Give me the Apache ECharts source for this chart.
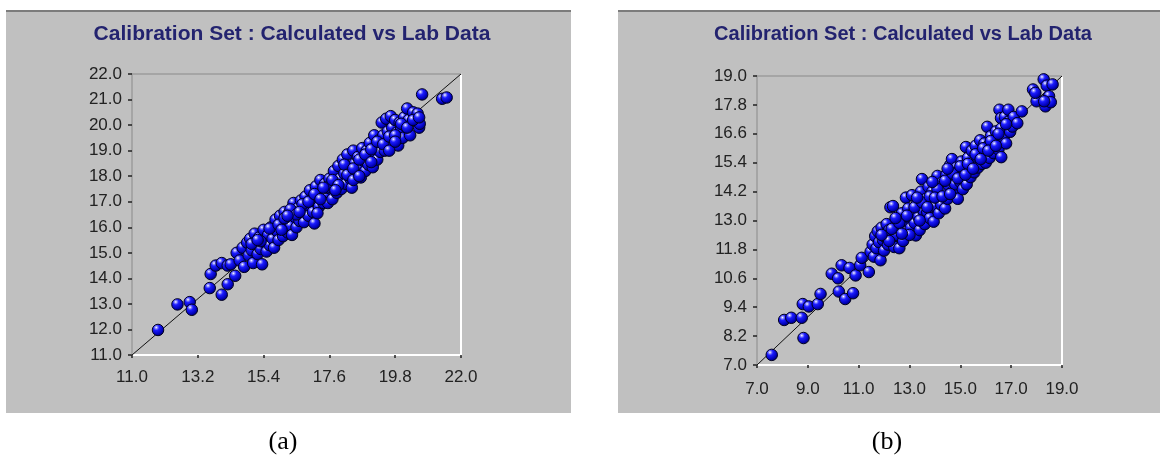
<!DOCTYPE html>
<html>
<head>
<meta charset="utf-8">
<script src="https://cdn.jsdelivr.net/npm/echarts@6/dist/echarts.min.js"></script>
<style>
html,body{margin:0;padding:0;background:#ffffff;}
#chart{width:1163px;height:466px;}
</style>
</head>
<body>
<div id="chart"></div>
<script>
// ---------- Data ----------
const titleText = 'Calibration Set : Calculated vs Lab Data';
const captionA = '(a)';
const captionB = '(b)';

const xTicksA = [11.0, 13.2, 15.4, 17.6, 19.8, 22.0];
const yTicksA = [11.0, 12.0, 13.0, 14.0, 15.0, 16.0, 17.0, 18.0, 19.0, 20.0, 21.0, 22.0];
const xTicksB = [7.0, 9.0, 11.0, 13.0, 15.0, 17.0, 19.0];
const yTicksB = [7.0, 8.2, 9.4, 10.6, 11.8, 13.0, 14.2, 15.4, 16.6, 17.8, 19.0];

const pointsA = [
  [11.87,11.98],[12.52,12.98],[12.93,13.07],[13.0,12.77],[13.6,13.62],[13.63,14.17],[13.8,14.5],
  [14.0,14.6],[14.0,13.36],[14.2,13.77],[14.2,14.5],[14.45,14.1],[14.3,14.55],
  [14.5,15.0],[14.6,14.7],[14.7,15.2],[14.75,14.45],[14.85,15.4],[14.9,14.9],[14.95,15.55],[15.0,15.1],
  [15.05,14.6],[15.1,15.75],[15.15,15.3],[15.2,14.95],[15.25,15.6],[15.3,15.15],[15.35,14.55],[15.4,15.9],
  [15.45,15.4],[15.5,15.05],[15.55,15.7],[15.6,15.3],
  [15.65,16.0],[15.7,15.55],[15.75,15.2],[15.8,16.3],[15.85,15.85],[15.9,15.5],[15.95,16.45],[16.0,16.05],
  [16.05,15.65],[16.1,16.6],[16.15,16.2],[16.2,15.8],[16.25,16.55],[16.3,16.05],[16.35,15.7],[16.4,16.95],
  [16.45,16.4],[16.5,16.0],[16.55,16.75],[16.6,16.25],
  [16.65,17.05],[16.7,16.6],[16.75,16.2],[16.8,17.2],[16.85,16.85],[16.9,16.45],[16.95,17.45],[17.0,17.0],
  [17.05,16.6],[17.1,16.15],[17.15,17.6],[17.2,17.2],[17.25,16.8],[17.3,17.85],[17.35,17.4],[17.4,16.95],
  [17.45,17.7],[17.5,17.25],[17.55,16.95],[17.6,17.9],
  [17.65,17.5],[17.7,17.1],[17.75,18.2],[17.8,17.7],[17.85,17.35],[17.9,18.4],[17.95,17.9],[18.0,17.5],
  [18.05,18.65],[18.1,18.1],[18.15,17.7],[18.2,18.85],[18.25,18.35],[18.3,17.9],[18.35,17.55],[18.4,19.0],
  [18.45,18.5],[18.5,18.1],[18.55,18.75],[18.6,18.3],
  [18.65,17.95],[18.7,19.1],[18.75,18.6],[18.8,18.2],[18.85,19.0],[18.9,18.45],[18.95,19.3],[19.0,18.8],
  [19.05,18.35],[19.1,19.6],[19.15,19.1],[19.2,18.65],[19.25,19.4],[19.3,18.95],[19.35,20.1],[19.4,19.6],
  [19.45,19.0],[19.5,20.25],[19.55,19.75],[19.6,19.2],
  [19.65,20.35],[19.7,19.9],[19.75,19.45],[19.8,20.2],[19.85,19.7],[19.9,19.2],[19.95,20.1],[20.0,19.85],
  [20.05,19.5],[20.1,20.3],[20.15,19.95],[20.2,20.65],[20.25,20.2],[20.3,19.6],[20.4,20.5],[20.55,20.45],
  [20.6,19.9],[20.62,20.05],[20.7,21.2],[21.37,21.03],[21.52,21.08],
  [15.0,15.35],[15.3,15.45],[15.6,15.95],[15.9,16.1],[16.1,16.35],[16.3,16.7],[16.5,16.5],[16.7,16.9],
  [16.9,17.0],[17.1,17.3],[17.3,17.1],[17.5,17.55],[17.7,17.85],[17.9,17.65],[18.1,18.45],[18.2,18.05],
  [18.4,18.3],[18.6,18.65],[18.8,18.85],[19.0,19.05],[19.2,19.35],[19.4,19.25],[19.6,19.55],[19.8,19.6],
  [20.0,20.05],[20.2,19.9],[20.4,20.2],[20.6,20.3],[16.0,15.9],[16.6,16.6],[17.2,16.55],[17.8,17.45],
  [18.4,17.85],[19.0,18.55],[19.6,19.0],[15.2,15.5],[16.2,16.45],[17.4,17.55],[18.6,18.0],[19.8,19.35]
];

const pointsB = [
  [7.58,7.42],[8.07,8.87],[8.35,8.96],[8.76,8.96],[8.83,8.12],[8.8,9.53],[9.04,9.43],[9.39,9.53],[9.5,9.95],
  [9.94,10.79],[10.19,10.6],[10.22,10.05],[10.33,11.14],[10.47,9.74],[10.78,9.98],[10.64,11.03],[10.88,10.72],
  [11.06,11.14],[11.12,11.45],[11.4,10.86],[11.47,11.7],
  [11.55,12.0],[11.6,11.5],[11.65,12.35],[11.7,11.85],[11.75,12.55],[11.8,12.1],[11.86,11.35],[11.9,12.7],
  [11.95,12.2],[12.0,11.75],[12.05,12.45],[12.1,12.85],[12.15,12.0],[12.2,12.6],[12.25,13.55],[12.3,12.25],
  [12.35,13.6],[12.4,11.9],[12.45,12.75],[12.5,12.4],
  [12.55,13.0],[12.6,11.85],[12.65,12.6],[12.7,13.3],[12.75,12.15],[12.8,12.9],[12.86,13.95],[12.9,12.55],
  [12.95,13.5],[13.0,13.1],[13.05,12.7],[13.1,14.05],[13.15,13.3],[13.2,12.9],[13.25,12.38],[13.3,13.7],
  [13.35,13.15],[13.4,12.6],[13.45,14.2],[13.49,14.72],
  [13.55,13.4],[13.6,12.85],[13.65,13.9],[13.7,13.35],[13.75,14.4],[13.8,13.1],[13.85,13.7],[13.9,14.2],
  [13.95,12.95],[14.0,13.6],[14.05,14.55],[14.1,14.85],[14.15,13.3],[14.2,14.0],[14.25,13.65],[14.3,14.6],
  [14.35,14.2],[14.4,13.5],[14.45,14.9],[14.5,13.9],
  [14.55,14.45],[14.6,15.3],[14.67,15.55],[14.7,14.2],[14.75,14.85],[14.8,14.5],[14.85,15.2],[14.9,13.9],
  [14.95,15.05],[15.0,14.6],[15.05,15.45],[15.1,14.3],[15.15,15.0],[15.22,16.05],[15.25,14.5],[15.3,15.6],
  [15.35,15.2],[15.4,14.8],[15.45,15.9],[15.5,15.4],
  [15.55,15.0],[15.6,16.1],[15.65,15.65],[15.7,15.2],[15.78,16.33],[15.8,15.8],[15.85,15.35],[15.92,15.63],
  [15.95,16.2],[16.0,15.4],[16.06,16.89],[16.1,16.1],[16.15,15.6],[16.2,16.5],[16.26,16.19],[16.3,15.8],
  [16.4,16.7],[16.45,16.35],[16.5,15.95],[16.54,17.6],
  [16.6,17.25],[16.61,15.63],[16.61,16.82],[16.7,16.45],[16.75,17.3],[16.8,16.2],[16.89,17.6],[16.9,17.1],
  [16.96,16.68],[17.05,16.9],[17.1,17.3],[17.24,17.04],[17.42,17.53],[17.86,18.44],[18.0,17.95],[17.95,18.3],
  [18.28,18.86],[18.35,17.74],[18.4,18.6],[18.49,18.16],[18.63,18.65],[18.56,17.91],[18.3,17.95],
  [12.0,12.35],[12.3,12.65],[12.6,12.9],[12.9,13.2],[13.2,13.55],[13.5,13.75],[13.8,14.0],[14.1,14.3],
  [14.4,14.65],[14.7,14.95],[15.0,15.25],[15.3,15.35],[15.6,15.75],[15.9,16.0],[16.2,16.3],[16.5,16.6],
  [16.8,17.0],[13.0,12.4],[13.4,13.0],[13.7,13.55],[14.0,13.95],[14.3,14.0],[14.6,14.1],[14.9,14.75],
  [15.2,14.9],[15.5,15.15],[15.8,15.55],[16.1,15.9],[16.4,16.1],[12.2,12.15],[12.7,12.45],[13.3,13.95],
  [13.9,14.6],[14.5,15.15],[11.9,12.4],[12.45,13.1]
];

// ---------- Chart ----------
const chart = echarts.init(document.getElementById('chart'), null, {renderer: 'canvas'});

const PANEL_BG = '#c0c0c0';
const LABEL_FONT = '"Liberation Sans", Arial, sans-serif';
const ballColor = {
  type: 'radial', x: 0.36, y: 0.3, r: 0.75,
  colorStops: [
    {offset: 0, color: '#ffffff'},
    {offset: 0.14, color: '#8a8aff'},
    {offset: 0.32, color: '#1c1cff'},
    {offset: 0.75, color: '#0000b4'},
    {offset: 1, color: '#00004a'}
  ]
};
const fmt = v => Number(v).toFixed(1);

function bottomAxis(gi, ticks, margin) {
  return {
    type: 'value', gridIndex: gi, position: 'bottom',
    min: ticks[0], max: ticks[ticks.length - 1],
    axisLine: {show: true, onZero: false, lineStyle: {color: '#ffffff', width: 2}},
    axisTick: {show: true, length: 3, customValues: ticks, lineStyle: {color: '#202020', width: 1.5}},
    axisLabel: {customValues: ticks, formatter: fmt, color: '#222222', fontSize: 17,
      fontFamily: LABEL_FONT, margin: margin},
    splitLine: {show: false}
  };
}
function topAxis(gi, ticks) {
  return {
    type: 'value', gridIndex: gi, position: 'top',
    min: ticks[0], max: ticks[ticks.length - 1],
    axisLine: {show: true, onZero: false, lineStyle: {color: '#9c9c9c', width: 1.5}},
    axisTick: {show: false}, axisLabel: {show: false}, splitLine: {show: false}
  };
}
function leftAxis(gi, ticks) {
  return {
    type: 'value', gridIndex: gi, position: 'left',
    min: ticks[0], max: ticks[ticks.length - 1],
    axisLine: {show: true, onZero: false, lineStyle: {color: '#9c9c9c', width: 1.5}},
    axisTick: {show: true, length: 4, customValues: ticks, lineStyle: {color: '#202020', width: 1.5}},
    axisLabel: {customValues: ticks, formatter: fmt, color: '#222222', fontSize: 17,
      fontFamily: LABEL_FONT, margin: 10},
    splitLine: {show: false}
  };
}
function rightAxis(gi, ticks) {
  return {
    type: 'value', gridIndex: gi, position: 'right',
    min: ticks[0], max: ticks[ticks.length - 1],
    axisLine: {show: true, onZero: false, lineStyle: {color: '#ffffff', width: 2}},
    axisTick: {show: false}, axisLabel: {show: false}, splitLine: {show: false}
  };
}

const diagA = [[xTicksA[0], yTicksA[0]], [xTicksA[xTicksA.length - 1], yTicksA[yTicksA.length - 1]]];
const diagB = [[xTicksB[0], yTicksB[0]], [xTicksB[xTicksB.length - 1], yTicksB[yTicksB.length - 1]]];

const option = {
  animation: false,
  backgroundColor: '#ffffff',
  graphic: [
    {type: 'rect', z: -10, shape: {x: 6, y: 10, width: 565, height: 403}, style: {fill: PANEL_BG}},
    {type: 'rect', z: -10, shape: {x: 618, y: 10, width: 542, height: 403}, style: {fill: PANEL_BG}},
    {type: 'line', z: -9, shape: {x1: 6, y1: 11, x2: 571, y2: 11}, style: {stroke: '#7c7c7c', lineWidth: 2}},
    {type: 'line', z: -9, shape: {x1: 618, y1: 11, x2: 1160, y2: 11}, style: {stroke: '#7c7c7c', lineWidth: 2}},
    {type: 'text', x: 292, y: 34, style: {text: titleText, textAlign: 'center', textVerticalAlign: 'middle',
      font: 'bold 21px "Liberation Sans", Arial, sans-serif', fill: '#23236f'}},
    {type: 'text', x: 903, y: 34, style: {text: titleText, textAlign: 'center', textVerticalAlign: 'middle',
      font: 'bold 20px "Liberation Sans", Arial, sans-serif', fill: '#23236f'}},
    {type: 'text', x: 283, y: 442, style: {text: captionA, textAlign: 'center', textVerticalAlign: 'middle',
      font: '26px "Liberation Serif", "Times New Roman", serif', fill: '#000000'}},
    {type: 'text', x: 887, y: 442, style: {text: captionB, textAlign: 'center', textVerticalAlign: 'middle',
      font: '26px "Liberation Serif", "Times New Roman", serif', fill: '#000000'}}
  ],
  grid: [
    {left: 132, top: 74, width: 329, height: 281, show: false},
    {left: 757, top: 76, width: 305, height: 289, show: false}
  ],
  xAxis: [
    bottomAxis(0, xTicksA, 14), topAxis(0, xTicksA),
    bottomAxis(1, xTicksB, 16), topAxis(1, xTicksB)
  ],
  yAxis: [
    leftAxis(0, yTicksA), rightAxis(0, yTicksA),
    leftAxis(1, yTicksB), rightAxis(1, yTicksB)
  ],
  series: [
    {type: 'line', xAxisIndex: 0, yAxisIndex: 0, data: diagA, symbol: 'none', silent: true, z: 1,
      lineStyle: {color: '#101010', width: 1}},
    {type: 'scatter', xAxisIndex: 0, yAxisIndex: 0, data: pointsA, symbolSize: 11.5, z: 2,
      itemStyle: {color: ballColor, borderColor: '#000020', borderWidth: 1, opacity: 1}},
    {type: 'line', xAxisIndex: 2, yAxisIndex: 2, data: diagB, symbol: 'none', silent: true, z: 1,
      lineStyle: {color: '#101010', width: 1}},
    {type: 'scatter', xAxisIndex: 2, yAxisIndex: 2, data: pointsB, symbolSize: 11.5, z: 2,
      itemStyle: {color: ballColor, borderColor: '#000020', borderWidth: 1, opacity: 1}}
  ]
};
chart.setOption(option);
</script>
</body>
</html>
